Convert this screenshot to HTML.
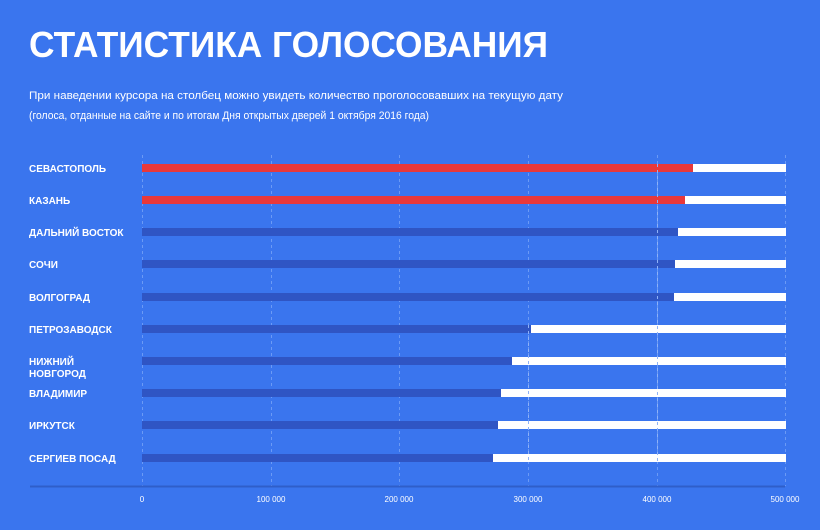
<!DOCTYPE html>
<html><head><meta charset="utf-8"><style>
html,body{margin:0;padding:0;width:820px;height:530px;overflow:hidden;background:#3a75ee}
svg{display:block}
text{font-family:"Liberation Sans","DejaVu Sans",sans-serif;fill:#fff}
</style></head><body>
<svg width="820" height="530" viewBox="0 0 820 530" xmlns="http://www.w3.org/2000/svg">
<rect width="820" height="530" fill="#3a75ee"/>
<text x="29" y="57" font-size="36" font-weight="bold" textLength="519" lengthAdjust="spacingAndGlyphs">СТАТИСТИКА ГОЛОСОВАНИЯ</text>
<text x="29" y="99" font-size="11" textLength="534" lengthAdjust="spacingAndGlyphs">При наведении курсора на столбец можно увидеть количество проголосовавших на текущую дату</text>
<text x="29" y="119" font-size="11" textLength="400" lengthAdjust="spacingAndGlyphs">(голоса, отданные на сайте и по итогам Дня открытых дверей 1 октября 2016 года)</text>
<g stroke="#6b9af5" stroke-width="1" stroke-dasharray="3,3">
<line x1="142.5" y1="155" x2="142.5" y2="486"/>
<line x1="271.5" y1="155" x2="271.5" y2="486"/>
<line x1="399.5" y1="155" x2="399.5" y2="486"/>
<line x1="528.5" y1="155" x2="528.5" y2="486"/>
<line x1="657.5" y1="155" x2="657.5" y2="486"/>
<line x1="785.5" y1="155" x2="785.5" y2="486"/>
</g>
<g font-size="10" font-weight="bold">
<text x="29" y="172">СЕВАСТОПОЛЬ</text>
<text x="29" y="204">КАЗАНЬ</text>
<text x="29" y="236">ДАЛЬНИЙ ВОСТОК</text>
<text x="29" y="268">СОЧИ</text>
<text x="29" y="301">ВОЛГОГРАД</text>
<text x="29" y="333">ПЕТРОЗАВОДСК</text>
<text x="29" y="365">НИЖНИЙ</text>
<text x="29" y="377">НОВГОРОД</text>
<text x="29" y="397">ВЛАДИМИР</text>
<text x="29" y="429">ИРКУТСК</text>
<text x="29" y="462">СЕРГИЕВ ПОСАД</text>
</g>
<g>
<rect x="142" y="164" width="644" height="8" fill="#fff"/><rect x="142" y="164" width="551" height="8" fill="#e8383a"/>
<rect x="142" y="196" width="644" height="8" fill="#fff"/><rect x="142" y="196" width="543" height="8" fill="#e8383a"/>
<rect x="142" y="228" width="644" height="8" fill="#fff"/><rect x="142" y="228" width="536" height="8" fill="#2f55c4"/>
<rect x="142" y="260" width="644" height="8" fill="#fff"/><rect x="142" y="260" width="533" height="8" fill="#2f55c4"/>
<rect x="142" y="293" width="644" height="8" fill="#fff"/><rect x="142" y="293" width="532" height="8" fill="#2f55c4"/>
<rect x="142" y="325" width="644" height="8" fill="#fff"/><rect x="142" y="325" width="389" height="8" fill="#2f55c4"/>
<rect x="142" y="357" width="644" height="8" fill="#fff"/><rect x="142" y="357" width="370" height="8" fill="#2f55c4"/>
<rect x="142" y="389" width="644" height="8" fill="#fff"/><rect x="142" y="389" width="359" height="8" fill="#2f55c4"/>
<rect x="142" y="421" width="644" height="8" fill="#fff"/><rect x="142" y="421" width="356" height="8" fill="#2f55c4"/>
<rect x="142" y="454" width="644" height="8" fill="#fff"/><rect x="142" y="454" width="351" height="8" fill="#2f55c4"/>
</g>
<g stroke="#8fb2f7" stroke-width="1" stroke-dasharray="3,3">
<line x1="528.5" y1="325" x2="528.5" y2="462"/>
<line x1="657.5" y1="164" x2="657.5" y2="462"/>
</g>
<line x1="30" y1="486.5" x2="785" y2="486.5" stroke="#2f5ec9" stroke-width="2"/>
<g font-size="8" text-anchor="middle" fill="#e6eeff">
<text x="142" y="502">0</text>
<text x="271" y="502">100 000</text>
<text x="399" y="502">200 000</text>
<text x="528" y="502">300 000</text>
<text x="657" y="502">400 000</text>
<text x="785" y="502">500 000</text>
</g>
</svg>
</body></html>
